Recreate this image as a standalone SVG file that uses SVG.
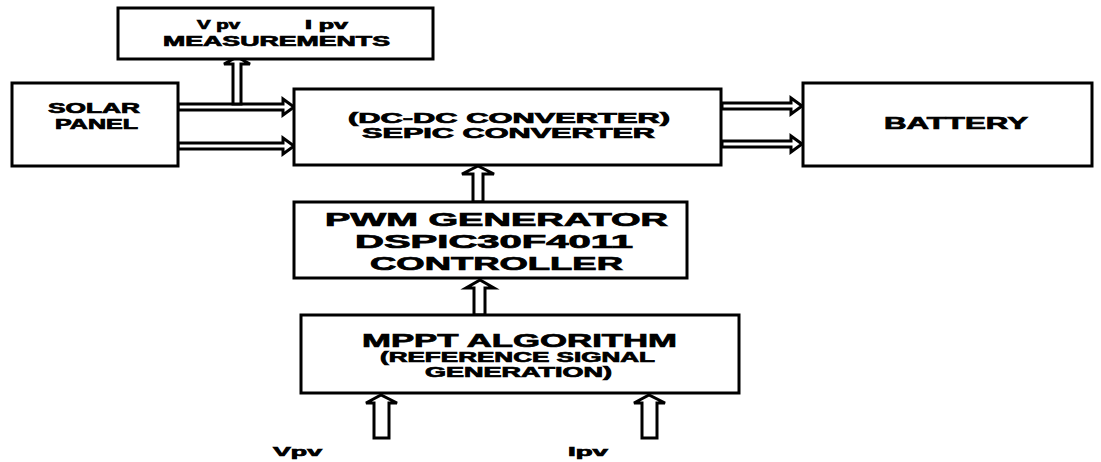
<svg xmlns="http://www.w3.org/2000/svg" width="1101" height="462" viewBox="0 0 1101 462">
<style>
.box{fill:#fff;stroke:#000;stroke-width:3}
.arr{fill:#fff;stroke:#000;stroke-width:3;stroke-linejoin:miter}
text{font-family:"Liberation Sans",Arial,sans-serif;font-weight:bold;fill:#000;stroke:#000;stroke-width:0.7}
</style>
<rect width="1101" height="462" fill="#fff"/>
<g id="connectors">
<path class="arr" d="M178,104 H283 V99 L294,107 L283,115 V110 H178 Z"/>
<path class="arr" d="M178,143 H283 V138 L294,146 L283,154 V149 H178 Z"/>
<path class="arr" d="M233,104 V64 H224 L237,57 L250,64 H241 V104 Z"/>
<path class="arr" d="M722,103 H791 V98 L802,106 L791,114 V109 H722 Z"/>
<path class="arr" d="M722,141 H791 V136 L802,144 L791,152 V147 H722 Z"/>
<path class="arr" d="M473,202 V174 H462 L478,166 L494,174 H483 V202 Z"/>
<path class="arr" d="M474,315 V288 H466 L480,280 L494,288 H485 V315 Z"/>
<path class="arr" d="M374,438 V403 H366 L381,395 L397,403 H389 V438 Z"/>
<path class="arr" d="M642,438 V403 H634 L649,395 L665,403 H657 V438 Z"/>
</g>
<g id="measurements">
<rect class="box" x="118" y="8" width="315" height="51"/>
<text font-size="12"><tspan x="197" y="29" textLength="43" lengthAdjust="spacingAndGlyphs">V pv</tspan><tspan x="305" y="29" textLength="43" lengthAdjust="spacingAndGlyphs">I pv</tspan></text>
<text x="163" y="46" font-size="14" textLength="227" lengthAdjust="spacingAndGlyphs">MEASUREMENTS</text>
</g>
<g id="solar">
<rect class="box" x="12" y="83" width="166" height="83"/>
<text x="48" y="113" font-size="14" textLength="92" lengthAdjust="spacingAndGlyphs">SOLAR</text>
<text x="55" y="129" font-size="14" textLength="83" lengthAdjust="spacingAndGlyphs">PANEL</text>
</g>
<g id="sepic">
<rect class="box" x="294" y="89" width="427" height="76"/>
<text x="348" y="123" font-size="14" textLength="322" lengthAdjust="spacingAndGlyphs">(DC-DC CONVERTER)</text>
<text x="362" y="138" font-size="14" textLength="293" lengthAdjust="spacingAndGlyphs">SEPIC CONVERTER</text>
</g>
<g id="battery">
<rect class="box" x="803" y="83" width="289" height="83"/>
<text x="884" y="129" font-size="17" textLength="144" lengthAdjust="spacingAndGlyphs">BATTERY</text>
</g>
<g id="pwm">
<rect class="box" x="294" y="202" width="393" height="76"/>
<text x="325" y="226" font-size="18" textLength="343" lengthAdjust="spacingAndGlyphs">PWM GENERATOR</text>
<text x="355" y="248" font-size="18" textLength="278" lengthAdjust="spacingAndGlyphs">DSPIC30F4011</text>
<text x="370" y="270" font-size="18" textLength="253" lengthAdjust="spacingAndGlyphs">CONTROLLER</text>
</g>
<g id="mppt">
<rect class="box" x="301" y="315" width="438" height="78"/>
<text x="362" y="347" font-size="19" textLength="315" lengthAdjust="spacingAndGlyphs">MPPT ALGORITHM</text>
<text x="380" y="362" font-size="14" textLength="275" lengthAdjust="spacingAndGlyphs">(REFERENCE SIGNAL</text>
<text x="425" y="377" font-size="14" textLength="187" lengthAdjust="spacingAndGlyphs">GENERATION)</text>
</g>
<g id="vpv">
<text x="273" y="456" font-size="13" textLength="49" lengthAdjust="spacingAndGlyphs">Vpv</text>
</g>
<g id="ipv">
<text x="568" y="456" font-size="13" textLength="40" lengthAdjust="spacingAndGlyphs">Ipv</text>
</g>
</svg>
